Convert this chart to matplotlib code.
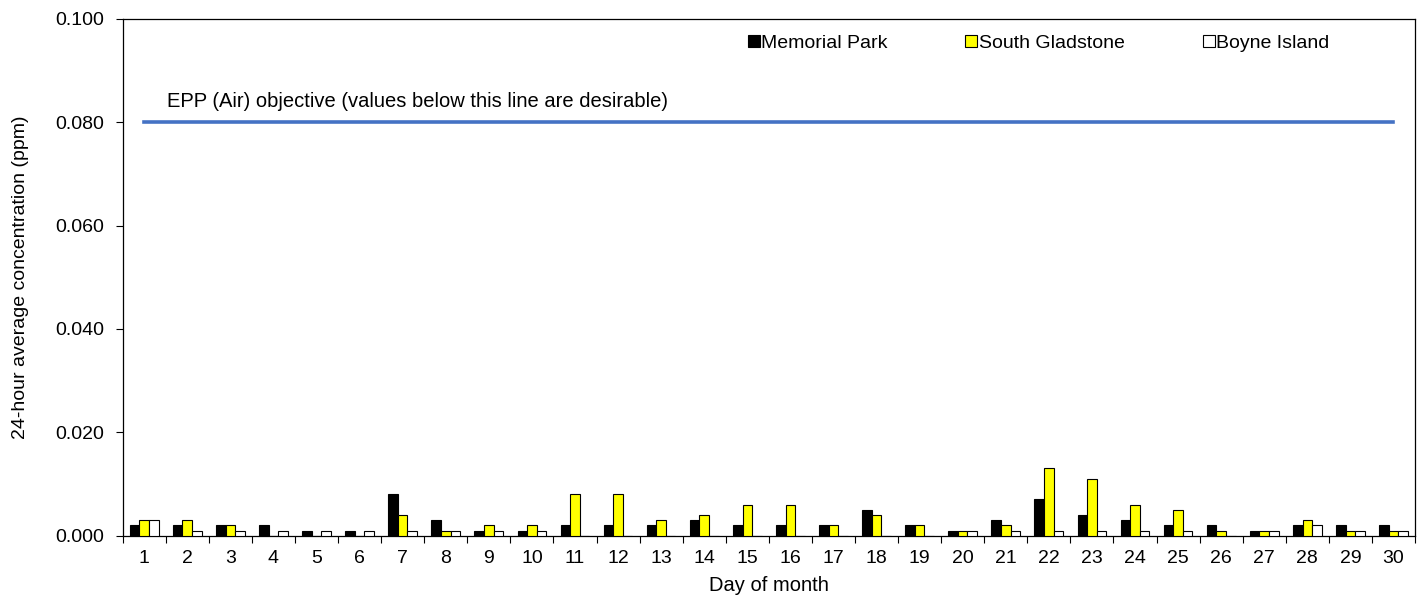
import numpy as np
import matplotlib; matplotlib.use('Agg')
import matplotlib.pyplot as plt
from matplotlib.lines import Line2D

plt.rcParams['font.family'] = ['Liberation Sans', 'DejaVu Sans']
FS = 14

# --- Donnees (ppm) ---
days = list(range(1, 31))
memorial_park = [0.002, 0.002, 0.002, 0.002, 0.001, 0.001, 0.008, 0.003, 0.001, 0.001,
                 0.002, 0.002, 0.002, 0.003, 0.002, 0.002, 0.002, 0.005, 0.002, 0.001,
                 0.003, 0.007, 0.004, 0.003, 0.002, 0.002, 0.001, 0.002, 0.002, 0.002]
south_gladstone = [0.003, 0.003, 0.002, 0.000, 0.000, 0.000, 0.004, 0.001, 0.002, 0.002,
                   0.008, 0.008, 0.003, 0.004, 0.006, 0.006, 0.002, 0.004, 0.002, 0.001,
                   0.002, 0.013, 0.011, 0.006, 0.005, 0.001, 0.001, 0.003, 0.001, 0.001]
boyne_island = [0.003, 0.001, 0.001, 0.001, 0.001, 0.001, 0.001, 0.001, 0.001, 0.001,
                0.000, 0.000, 0.000, 0.000, 0.000, 0.000, 0.000, 0.000, 0.000, 0.001,
                0.001, 0.001, 0.001, 0.001, 0.001, 0.000, 0.001, 0.002, 0.001, 0.001]
objective = 0.080
series_names = ['Memorial Park', 'South Gladstone', 'Boyne Island']
series_colors = ['#000000', '#ffff00', '#ffffff']

fig = plt.figure(figsize=(14.26, 6.16), dpi=100)
ax = fig.add_axes([0.086, 0.1304, 0.9063, 0.8392])

x = np.array(days, dtype=float)
w = 0.222
for k, (vals, col) in enumerate(zip([memorial_park, south_gladstone, boyne_island], series_colors)):
    ax.bar(x + (k - 1) * w, vals, width=w, color=col, edgecolor='black', lw=0.8, zorder=3)

# Ligne objectif EPP (Air)
ax.plot([days[0], days[-1]], [objective, objective], color='#4472c4', lw=2.6, zorder=4)
ax.text(1.52, objective + 0.0022, 'EPP (Air) objective (values below this line are desirable)',
        fontsize=14.5, ha='left', va='bottom', color='black')

ax.set_xlim(0.5, 30.5)
ax.set_ylim(0, 0.1)
ax.set_yticks(np.arange(0, 0.1001, 0.02))
ax.set_yticklabels([f'{v:.3f}' for v in np.arange(0, 0.1001, 0.02)])
ax.set_xticks(x)
ax.set_xticklabels([str(d) for d in days])
ax.set_xticks(np.arange(0.5, 31, 1), minor=True)
ax.tick_params(axis='x', which='major', length=0, pad=10, labelsize=FS)
ax.tick_params(axis='x', which='minor', length=5, width=0.8, direction='out')
ax.tick_params(axis='y', length=5, width=0.8, direction='out', labelsize=FS, pad=8)
for s in ax.spines.values():
    s.set_linewidth(0.9)

ax.set_xlabel('Day of month', fontsize=14.5, labelpad=7)
ax.set_ylabel('24-hour average concentration (ppm)', fontsize=14, labelpad=19)

handles = [Line2D([], [], ls='none', marker='s', ms=8.5, mfc=c, mec='black', mew=0.8)
           for c in series_colors]
ax.legend(handles, series_names, loc='upper right', bbox_to_anchor=(0.94, 0.985), ncol=3,
          frameon=False, fontsize=FS, handlelength=0.6, handletextpad=0.1,
          columnspacing=4.0, borderaxespad=0)

fig.savefig('out.png', dpi=100)
